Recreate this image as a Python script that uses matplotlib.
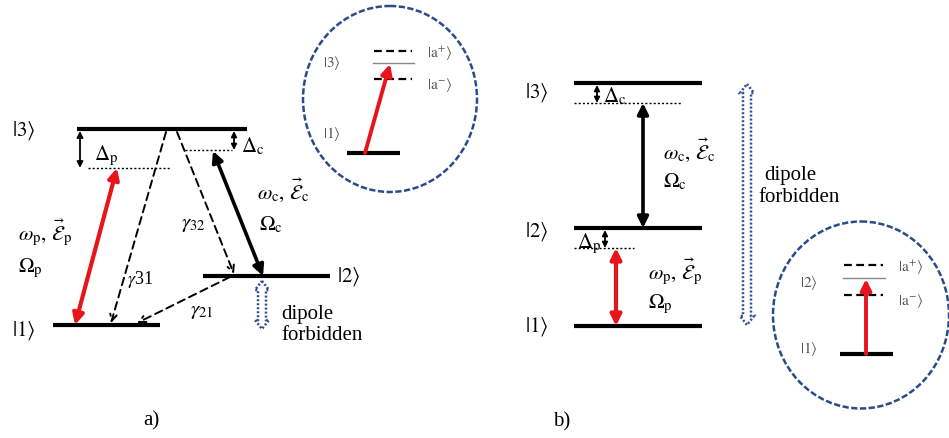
import numpy as np
import matplotlib.pyplot as plt
from matplotlib.patches import Ellipse, Polygon

plt.rcParams['font.family'] = ['Liberation Serif', 'DejaVu Serif']
plt.rcParams['mathtext.fontset'] = 'stix'

# ---- panel a) : Lambda scheme (pixel coords, y down) ----
a_level_names = [r'$|1\rangle$', r'$|2\rangle$', r'$|3\rangle$']
a_level_y = [326, 277, 130]
a_level_x0 = [53, 203, 77]
a_level_x1 = [160, 330, 247]
a_label_xy = [(12, 331), (337, 277), (12, 131)]

a_det_p_y = 169          # detuned probe line
a_det_c_y = 151          # detuned coupling line
a_probe = [(75, 326), (117, 169)]
a_coupling = [(213, 152), (263, 277)]
a_decays = {'31': [(166, 133), (111, 324)],
            '32': [(177, 133), (234, 275)],
            '21': [(230, 278), (137, 324)]}

# inset a
a_in_center = (390, 100)
a_in_size = (174, 186)
a_in_ground_y = 154
a_in_bare_y = 64
a_in_dressed_y = [52, 80]
a_in_label_xy = [(341, 63), (341, 134)]

# ---- panel b) : ladder scheme ----
b_level_names = [r'$|1\rangle$', r'$|2\rangle$', r'$|3\rangle$']
b_level_y = [327, 229, 84]
b_level_x0 = [574, 574, 574]
b_level_x1 = [702, 702, 702]
b_det_c_y = 104
b_det_p_y = 249

# inset b
b_in_center = (861, 316)
b_in_size = (176, 187)
b_in_ground_y = 355
b_in_bare_y = 279
b_in_dressed_y = [266, 296]
b_in_label_xy = [(818, 283), (818, 349)]

fig = plt.figure(figsize=(9.49, 4.39), dpi=100)
ax = fig.add_axes([0, 0, 1, 1])
ax.set_xlim(0, 949)
ax.set_ylim(439, 0)
ax.axis('off')

FS = 15


def darrow(p0, p1, color='black', lw=1.2, ms=10, style='<|-|>', ls='-'):
    ax.annotate('', xy=p1, xytext=p0,
                arrowprops=dict(arrowstyle=style, color=color, lw=lw,
                                mutation_scale=ms, shrinkA=0, shrinkB=0,
                                linestyle=ls))


def hollow_arrow(x, y0, y1, w=4, hw=7, hl=9):
    pts = [(x, y0), (x + hw, y0 + hl), (x + w, y0 + hl), (x + w, y1 - hl),
           (x + hw, y1 - hl), (x, y1), (x - hw, y1 - hl), (x - w, y1 - hl),
           (x - w, y0 + hl), (x - hw, y0 + hl)]
    ax.add_patch(Polygon(pts, closed=True, fill=False, edgecolor='#2e4f96',
                         lw=1.8, linestyle=(0, (0.8, 0.8))))


def inset(center, size, ground_y, bare_y, dressed_y, xs, upper_name,
          arrow_x, label_xy):
    ax.add_patch(Ellipse(center, size[0], size[1], fill=False,
                         edgecolor='#2b4a8e', lw=1.8, linestyle=(0, (2.5, 1))))
    gx0, gx1, lx0, lx1 = xs
    ax.plot([gx0, gx1], [ground_y, ground_y], color='black', lw=3,
            solid_capstyle='butt')
    ax.plot([lx0, lx1], [bare_y, bare_y], color='#888888', lw=1)
    for y in dressed_y:
        ax.plot([lx0 + 1, lx1 - 2], [y, y], color='black', lw=1.6,
                linestyle=(0, (3.5, 2)))
    darrow((arrow_x[0], ground_y), (arrow_x[1], bare_y + 1), color='#e8141b',
           lw=2.8, ms=16, style='-|>')
    ax.text(label_xy[0][0], label_xy[0][1], upper_name, fontsize=11,
            color='#555555', ha='right', va='center')
    ax.text(label_xy[1][0], label_xy[1][1], r'$|1\rangle$', fontsize=11,
            color='#555555', ha='right', va='center')
    ax.text(lx1 + 13, dressed_y[0] + 2, r'$|\mathrm{a}^{+}\rangle$',
            fontsize=11, color='#555555', va='center')
    ax.text(lx1 + 13, dressed_y[1] + 5, r'$|\mathrm{a}^{-}\rangle$',
            fontsize=11, color='#555555', va='center')


# ---------------- panel a ----------------
for y, x0, x1 in zip(a_level_y, a_level_x0, a_level_x1):
    ax.plot([x0, x1], [y, y], color='black', lw=3, solid_capstyle='butt')
for name, (tx, ty) in zip(a_level_names, a_label_xy):
    ax.text(tx, ty, name, fontsize=FS, va='center')

ax.plot([88, 170], [a_det_p_y, a_det_p_y], color='black', lw=1, ls=(0, (1.5, 1.5)))
ax.plot([185, 232], [a_det_c_y, a_det_c_y], color='black', lw=1, ls=(0, (1.5, 1.5)))
darrow((80, a_level_y[2] + 2), (80, a_det_p_y), lw=1.3, ms=9)
darrow((234, a_level_y[2] + 2), (234, a_det_c_y), lw=1.3, ms=8)
ax.text(94, 156, r'$\Delta_\mathrm{p}$', fontsize=FS, va='center')
ax.text(241, 146, r'$\Delta_\mathrm{c}$', fontsize=FS, va='center')

darrow(*a_probe, color='#e8141b', lw=3, ms=16)
darrow(*a_coupling, color='black', lw=2.6, ms=16)
for key, (p0, p1) in a_decays.items():
    darrow(p0, p1, lw=1.4, ms=12, style='->', ls=(0, (4, 2.5)))

ax.text(18, 233, r'$\omega_\mathrm{p},\,\vec{\mathcal{E}}_\mathrm{p}$', fontsize=FS, va='center')
ax.text(18, 268, r'$\Omega_\mathrm{p}$', fontsize=FS, va='center')
ax.text(257, 190, r'$\omega_\mathrm{c},\,\vec{\mathcal{E}}_\mathrm{c}$', fontsize=FS, va='center')
ax.text(259, 225, r'$\Omega_\mathrm{c}$', fontsize=FS, va='center')
ax.text(127, 280, r'$\gamma$31', fontsize=13, va='center')
ax.text(181, 225, r'$\gamma_{32}$', fontsize=FS, va='center')
ax.text(190, 312, r'$\gamma_{21}$', fontsize=FS, va='center')

hollow_arrow(262, 282, 330)
ax.text(281, 315, 'dipole', fontsize=FS, va='center')
ax.text(281, 336, 'forbidden', fontsize=FS, va='center')

inset(a_in_center, a_in_size, a_in_ground_y, a_in_bare_y, a_in_dressed_y,
      (347, 400, 373, 414), r'$|3\rangle$', (365, 390), a_in_label_xy)

ax.text(143, 421, 'a)', fontsize=FS, va='center')

# ---------------- panel b ----------------
for y, x0, x1 in zip(b_level_y, b_level_x0, b_level_x1):
    ax.plot([x0, x1], [y, y], color='black', lw=3, solid_capstyle='butt')
for name, y in zip(b_level_names, [327, 232, 93]):
    ax.text(525, y, name, fontsize=FS, va='center')

ax.plot([574, 682], [b_det_c_y, b_det_c_y], color='black', lw=1, ls=(0, (1.5, 1.5)))
ax.plot([574, 634], [b_det_p_y, b_det_p_y], color='black', lw=1, ls=(0, (1.5, 1.5)))
darrow((597, b_level_y[2] + 2), (597, b_det_c_y), lw=1.3, ms=8)
darrow((605, b_level_y[1] + 2), (605, b_det_p_y), lw=1.3, ms=8)
ax.text(603, 96, r'$\Delta_\mathrm{c}$', fontsize=FS, va='center')
ax.text(577, 244, r'$\Delta_\mathrm{p}$', fontsize=FS, va='center')

darrow((643, b_det_c_y), (643, b_level_y[1]), color='black', lw=2.6, ms=16)
darrow((616, b_det_p_y), (616, b_level_y[0]), color='#e8141b', lw=3, ms=16)

ax.text(663, 150, r'$\omega_\mathrm{c},\,\vec{\mathcal{E}}_\mathrm{c}$', fontsize=FS, va='center')
ax.text(663, 182, r'$\Omega_\mathrm{c}$', fontsize=FS, va='center')
ax.text(648, 272, r'$\omega_\mathrm{p},\,\vec{\mathcal{E}}_\mathrm{p}$', fontsize=FS, va='center')
ax.text(648, 304, r'$\Omega_\mathrm{p}$', fontsize=FS, va='center')

hollow_arrow(747, 85, 326)
ax.text(764, 176, 'dipole', fontsize=FS, va='center')
ax.text(758, 198, 'forbidden', fontsize=FS, va='center')

inset(b_in_center, b_in_size, b_in_ground_y, b_in_bare_y, b_in_dressed_y,
      (840, 893, 843, 885), r'$|2\rangle$', (866, 866), b_in_label_xy)

ax.text(553, 422, 'b)', fontsize=FS, va='center')

fig.savefig('out.png', dpi=100)
